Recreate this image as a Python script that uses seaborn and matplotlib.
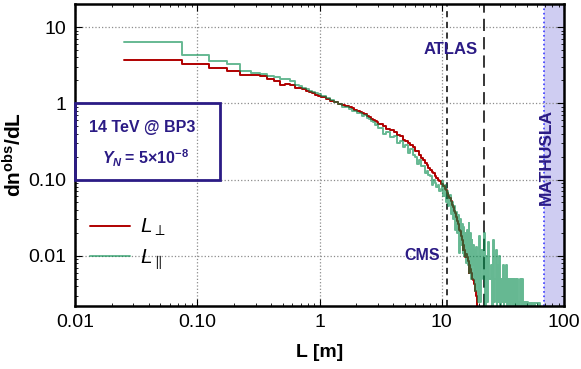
import numpy as np
import pandas as pd
import matplotlib
matplotlib.use("Agg")
import matplotlib.pyplot as plt
import seaborn as sns
from matplotlib.patches import Rectangle
from matplotlib.ticker import FixedLocator, FixedFormatter, NullFormatter

# bin edges of the histograms [m]
edges = [0.025, 0.075, 0.125, 0.175, 0.225, 0.275, 0.325, 0.375, 0.425, 0.475,
         0.525, 0.575, 0.625, 0.675, 0.725, 0.775, 0.825, 0.875, 0.925, 0.975,
         1.025, 1.125, 1.225, 1.325, 1.425, 1.525, 1.625, 1.725, 1.825, 1.925,
         2.025, 2.125, 2.225, 2.325, 2.425, 2.525, 2.625, 2.725, 2.825, 2.925,
         3.025, 3.275, 3.525, 3.775, 4.025, 4.275, 4.525, 4.775, 5.025, 5.275,
         5.525, 5.775, 6.025, 6.275, 6.525, 6.775, 7.025, 7.275, 7.525, 7.775,
         8.025, 8.275, 8.525, 8.775, 9.025, 9.275, 9.525, 9.775,
         10.025, 10.275, 10.525, 10.775, 11.025, 11.275, 11.525, 11.775, 12.025, 12.275,
         12.525, 12.775, 13.025, 13.275, 13.525, 13.775, 14.025, 14.275, 14.525, 14.775,
         15.025, 15.275, 15.525, 15.775, 16.025, 16.275, 16.525, 16.775, 17.025, 17.275,
         17.525, 17.775, 18.025, 18.275, 18.525, 18.775, 19.025, 19.275, 19.525, 19.775,
         20, 20.5, 21, 21.5, 22, 22.5, 23, 23.5, 24, 24.5, 25, 25.5, 26, 26.5, 27, 27.5,
         28, 28.5, 29, 29.5, 30, 30.5, 31, 31.5, 32, 32.5, 33, 33.5, 34, 34.5, 35, 35.5,
         36, 36.5, 37, 37.5, 38, 38.5, 39, 39.5, 40, 40.5, 41, 41.5, 42, 42.5, 43, 43.5,
         44, 44.5, 45, 45.5, 46, 46.5, 47, 47.5, 48, 48.5, 49, 49.5,
         50, 51, 52, 53, 54, 55, 56, 57, 58, 59, 60, 61, 62, 63, 64, 65]

# L_perp
red_vals = [3.74, 3.28, 2.88, 2.68, 2.35, 2.33, 2.3, 2.1, 1.97, 1.75,
            1.8, 1.72, 1.6, 1.57, 1.55, 1.45, 1.42, 1.35, 1.3, 1.25,
            1.22, 1.13, 1.08, 1.03, 0.98, 0.95, 0.92, 0.89, 0.86, 0.82,
            0.80, 0.77, 0.74, 0.72, 0.69, 0.67, 0.63, 0.61, 0.59, 0.56,
            0.53, 0.50, 0.46, 0.44, 0.42, 0.38, 0.37, 0.33, 0.32, 0.30,
            0.28, 0.27, 0.24, 0.235, 0.21, 0.19, 0.18, 0.165, 0.155, 0.14,
            0.135, 0.125, 0.12, 0.11, 0.105, 0.10, 0.095, 0.088,
            0.088, 0.082, 0.076, 0.072, 0.066, 0.060, 0.058, 0.052, 0.046, 0.044,
            0.039, 0.036, 0.032, 0.029, 0.026, 0.022, 0.021, 0.018, 0.016, 0.012,
            0.014, 0.012, 0.0095, 0.0105, 0.0095, 0.0085, 0.006, 0.0075, 0.0068, 0.006,
            0.0055, 0.005, 0.0048, 0.0042, 0.004, 0.0035, 0.003, 1e-6]

# L_parallel
green_vals = [6.3, 4.27, 3.6, 3.25, 2.66, 2.5, 2.45, 2.25, 2.2, 2.1,
              2.1, 1.95, 1.75, 1.7, 1.57, 1.55, 1.45, 1.42, 1.38, 1.33,
              1.25, 1.18, 1.1, 1.03, 0.97, 0.9, 0.88, 0.85, 0.80, 0.79,
              0.74, 0.75, 0.68, 0.70, 0.64, 0.62, 0.58, 0.57, 0.52, 0.53,
              0.48, 0.40, 0.42, 0.36, 0.37, 0.30, 0.32, 0.27, 0.28, 0.22,
              0.25, 0.21, 0.20, 0.16, 0.18, 0.15, 0.15, 0.12, 0.13, 0.115,
              0.11, 0.085, 0.10, 0.09, 0.08, 0.085, 0.07, 0.075,
              0.095, 0.06, 0.085, 0.05, 0.07, 0.045, 0.062, 0.035, 0.05, 0.03,
              0.045, 0.022, 0.038, 0.02, 0.034, 0.011, 0.03, 0.014, 0.026, 0.011,
              0.024, 0.01, 0.02, 0.008, 0.022, 0.0075, 0.027, 0.006, 0.02, 0.005,
              0.016, 0.0075, 0.014, 0.005, 0.012, 0.0035, 0.013, 0.005, 0.01, 0.0025,
              0.018, 0.0025, 0.012, 0.005, 0.02, 1e-6, 0.01, 0.0025, 0.015, 0.005,
              0.0075, 1e-6, 0.016, 0.0025, 0.005, 0.012, 1e-6, 0.0075, 0.0025, 0.01,
              1e-6, 0.005, 0.0025, 0.0075, 1e-6, 0.005, 0.0025, 0.0075, 1e-6, 0.005,
              0.0025, 0.005, 1e-6, 0.005, 0.0025, 0.005, 1e-6, 0.005, 0.0025, 1e-6,
              0.005, 0.0025, 1e-6, 0.005, 0.0025, 1e-6, 0.0025, 0.005, 1e-6, 1e-6,
              0.0025, 0.005, 1e-6, 1e-6, 0.0025, 1e-6, 0.0025, 1e-6, 1e-6, 0.0025,
              0.0025, 1e-6, 0.0024, 0.0024, 1e-6, 0.0024, 0.0024, 1e-6, 0.0024, 0.0024,
              0.0024, 1e-6, 0.0024, 0.0024, 1e-6]

x_ticks = [0.01, 0.1, 1, 10, 100]
x_labels = ["0.01", "0.10", "1", "10", "100"]
y_ticks = [0.01, 0.1, 1, 10]
y_labels = ["0.01", "0.10", "1", "10"]

cms_L, atlas_L, mathusla_L = 11, 22, 68

sns.set_style("ticks")
plt.rcParams['font.family'] = ['Liberation Sans', 'DejaVu Sans']
plt.rcParams['mathtext.fontset'] = 'custom'
plt.rcParams['mathtext.rm'] = 'Liberation Sans'
plt.rcParams['mathtext.it'] = 'Liberation Sans:italic'
plt.rcParams['mathtext.bf'] = 'Liberation Sans:bold:italic'
plt.rcParams['mathtext.sf'] = 'Liberation Sans:bold'
for k in ['text.color', 'axes.labelcolor', 'xtick.color', 'ytick.color', 'axes.edgecolor']:
    plt.rcParams[k] = 'black'

ink = '#2b1b85'
red = '#b00000'
green = '#008a4a'


def step_frame(vals):
    x = edges[:len(vals) + 1]
    y = list(vals) + [vals[-1]]
    return pd.DataFrame({'L': x, 'dn': y})


fig, ax = plt.subplots(figsize=(5.81, 3.69), dpi=100)
fig.subplots_adjust(left=0.129, right=0.971, top=0.989, bottom=0.171)

ax.axvspan(mathusla_L, 100, color='#cfcdf2', lw=0, zorder=0)
ax.axvline(mathusla_L, color='#3b3bff', ls=':', lw=1.2, zorder=1)
ax.axvline(cms_L, color='k', ls=(0, (4, 3)), lw=1.1, zorder=1)
ax.axvline(atlas_L, color='k', ls=(0, (8, 4)), lw=1.1, zorder=1)

sns.lineplot(data=step_frame(red_vals), x='L', y='dn', color=red, lw=1.4,
             drawstyle='steps-post', estimator=None, label=r'$L_{\perp}$', ax=ax)
sns.lineplot(data=step_frame(green_vals), x='L', y='dn', color=green, lw=1.4, alpha=0.6,
             drawstyle='steps-post', estimator=None, label=r'$L_{\parallel}$', ax=ax)

ax.set_xscale('log')
ax.set_yscale('log')
ax.set_xlim(0.01, 100)
ax.set_ylim(0.0022, 20)

ax.xaxis.set_major_locator(FixedLocator(x_ticks))
ax.xaxis.set_major_formatter(FixedFormatter(x_labels))
ax.yaxis.set_major_locator(FixedLocator(y_ticks))
ax.yaxis.set_major_formatter(FixedFormatter(y_labels))
ax.xaxis.set_minor_formatter(NullFormatter())
ax.yaxis.set_minor_formatter(NullFormatter())
ax.tick_params(which='both', direction='in', top=True, right=True, labelsize=14)
ax.tick_params(which='major', length=5, width=0.8, pad=6)
ax.tick_params(which='minor', length=2.5, width=0.6)
for s in ax.spines.values():
    s.set_linewidth(1.8)
ax.grid(True, which='major', ls=':', color='#8c8c8c', lw=0.9)
ax.set_axisbelow(True)

ax.set_xlabel('L [m]', fontsize=14, fontweight='bold', labelpad=9)
ax.set_ylabel(r'$\mathsf{dn^{obs}/dL}$', fontsize=15, labelpad=2)

ax.add_patch(Rectangle((0.01, 0.1), 0.153 - 0.01, 0.9, fill=False, ec=ink, lw=2,
                       clip_on=False, zorder=4))
ax.text(0.0355, 0.48, '14 TeV @ BP3', color=ink, fontsize=11.5, fontweight='bold',
        ha='center', va='center')
ax.text(0.0375, 0.19, r'$\mathbf{Y_N}\mathsf{=\,5{\times}10^{-8}}$', color=ink, fontsize=11.5,
        ha='center', va='center')
ax.text(11.9, 5.0, 'ATLAS', color=ink, fontsize=12, fontweight='bold', ha='center', va='center')
ax.text(6.9, 0.0102, 'CMS', color=ink, fontsize=11.5, fontweight='bold', ha='center', va='center')
ax.text(71, 0.2, 'MATHUSLA', color=ink, fontsize=12.5, fontweight='bold', rotation=90,
        ha='center', va='center')

ax.legend(loc='upper left', bbox_to_anchor=(0.031, 0.295), frameon=False, fontsize=15,
          handlelength=1.9, labelspacing=0.45, handletextpad=0.5, borderpad=0,
          borderaxespad=0)

fig.savefig('out.png', dpi=100)
